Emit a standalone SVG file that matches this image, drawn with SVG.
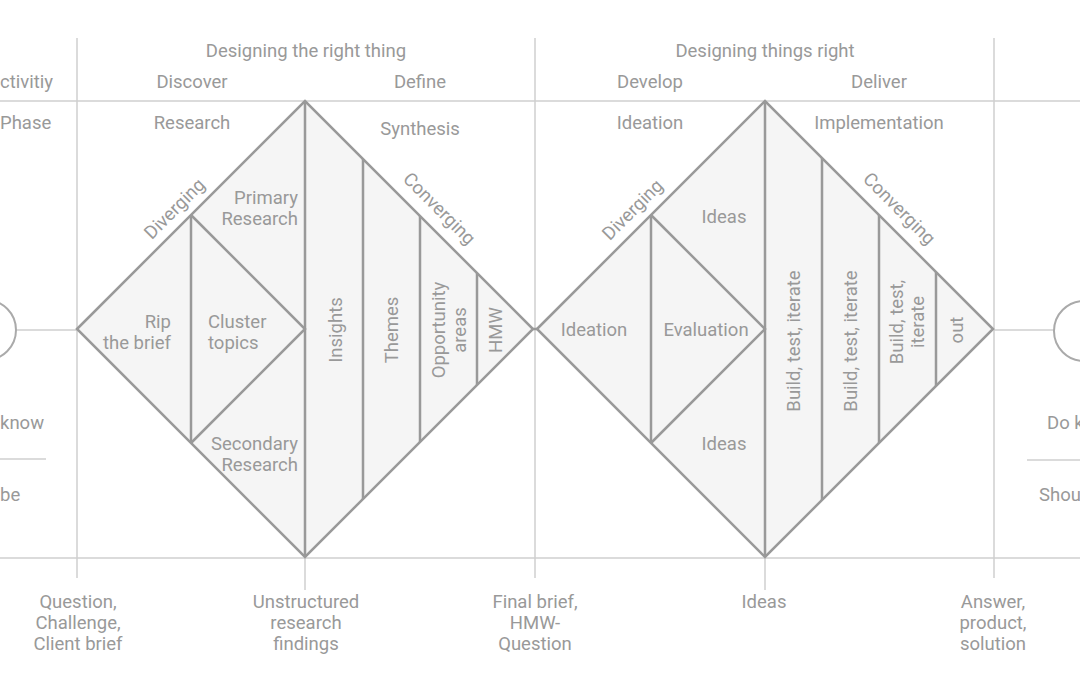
<svg xmlns="http://www.w3.org/2000/svg" width="1080" height="675" viewBox="0 0 1080 675">
<style>
.grid{stroke:#cfcfcf;stroke-width:1.5;fill:none}
.edge{stroke:#999;stroke-width:2.5;fill:#f5f5f5;stroke-linejoin:miter}
.ln{stroke:#999;stroke-width:2.5;fill:none}
.circ{stroke:#aaa;stroke-width:2;fill:none}
text{font-family:Roboto,"Liberation Sans",Arial,sans-serif;font-size:18.5px;fill:#999}
.m{text-anchor:middle}
.e{text-anchor:end}
</style>
<rect width="1080" height="675" fill="#fff"/>
<g id="grid">
<line class="grid" x1="0" y1="101" x2="1080" y2="101"/>
<line class="grid" x1="0" y1="558" x2="1080" y2="558"/>
<line class="grid" x1="77" y1="38" x2="77" y2="578"/>
<line class="grid" x1="535" y1="38" x2="535" y2="578"/>
<line class="grid" x1="994" y1="38" x2="994" y2="578"/>
<line class="grid" x1="305" y1="557" x2="305" y2="590"/>
<line class="grid" x1="765" y1="557" x2="765" y2="590"/>
<line class="grid" x1="0" y1="459" x2="46" y2="459"/>
<line class="grid" x1="1027" y1="460" x2="1080" y2="460"/>
</g>
<g id="connectors">
<line class="grid" x1="16" y1="330" x2="77" y2="330"/>
<line class="grid" x1="994" y1="330" x2="1054" y2="330"/>
<line class="ln" x1="533" y1="329" x2="537" y2="329"/>
</g>
<g id="start">
<circle class="circ" cx="-14" cy="330" r="30"/>
</g>
<g id="end">
<circle class="circ" cx="1084" cy="331" r="30"/>
</g>
<g id="diamond-1">
<polygon class="edge" points="77,329 305,101 533,329 305,557"/>
<line class="ln" x1="191" y1="215" x2="191" y2="443"/>
<polyline class="ln" points="191,215 305,329 191,443"/>
<line class="ln" x1="305" y1="101" x2="305" y2="557"/>
<line class="ln" x1="363" y1="159" x2="363" y2="499"/>
<line class="ln" x1="420" y1="216" x2="420" y2="442"/>
<line class="ln" x1="477" y1="273" x2="477" y2="385"/>
</g>
<g id="diamond-2">
<polygon class="edge" points="537,329 765,101 993,329 765,557"/>
<line class="ln" x1="651" y1="215" x2="651" y2="443"/>
<polyline class="ln" points="651,215 765,329 651,443"/>
<line class="ln" x1="765" y1="101" x2="765" y2="557"/>
<line class="ln" x1="822" y1="158" x2="822" y2="500"/>
<line class="ln" x1="879" y1="215" x2="879" y2="443"/>
<line class="ln" x1="936" y1="272" x2="936" y2="386"/>
</g>
<g id="labels-top">
<text class="m" x="306" y="57">Designing the right thing</text>
<text class="m" x="765" y="57">Designing things right</text>
<text x="0" y="88">ctivitiy</text>
<text class="m" x="192" y="88">Discover</text>
<text class="m" x="420" y="88">Define</text>
<text class="m" x="650" y="88">Develop</text>
<text class="m" x="879" y="88">Deliver</text>
<text x="0" y="129">Phase</text>
<text x="0" y="429">know</text>
<text x="0" y="501">be</text>
<text class="m" x="192" y="129">Research</text>
<text class="m" x="420" y="135">Synthesis</text>
<text class="m" x="650" y="129">Ideation</text>
<text class="m" x="879" y="129">Implementation</text>
<text x="1047" y="429">Do k</text>
<text x="1039" y="501">Shou</text>
</g>
<g id="labels-d1">
<text class="m" transform="translate(179,213) rotate(-45)">Diverging</text>
<text class="e" x="298" y="204">Primary</text>
<text class="e" x="298" y="225">Research</text>
<text class="e" x="171" y="328">Rip</text>
<text class="e" x="171" y="349">the brief</text>
<text x="208" y="328">Cluster</text>
<text x="208" y="349">topics</text>
<text class="e" x="298" y="450">Secondary</text>
<text class="e" x="298" y="471">Research</text>
<text class="m" transform="translate(435,213) rotate(45)">Converging</text>
<text class="m" transform="translate(342,330) rotate(-90)">Insights</text>
<text class="m" transform="translate(398,330) rotate(-90)">Themes</text>
<text class="m" transform="translate(445,330) rotate(-90)">Opportunity</text>
<text class="m" transform="translate(466,330) rotate(-90)">areas</text>
<text class="m" transform="translate(502,330) rotate(-90)">HMW</text>
</g>
<g id="labels-d2">
<text class="m" transform="translate(637,214) rotate(-45)">Diverging</text>
<text class="m" x="724" y="223">Ideas</text>
<text class="m" x="594" y="336">Ideation</text>
<text class="m" x="706" y="336">Evaluation</text>
<text class="m" x="724" y="450">Ideas</text>
<text class="m" transform="translate(895,213) rotate(45)">Converging</text>
<text class="m" transform="translate(800,341) rotate(-90)">Build, test, iterate</text>
<text class="m" transform="translate(857,341) rotate(-90)">Build, test, iterate</text>
<text class="m" transform="translate(903,322) rotate(-90)">Build, test,</text>
<text class="m" transform="translate(924,322) rotate(-90)">iterate</text>
<text class="m" transform="translate(963,330) rotate(-90)">out</text>
</g>
<g id="labels-bottom">
<text class="m" x="78" y="608">Question,</text>
<text class="m" x="78" y="629">Challenge,</text>
<text class="m" x="78" y="650">Client brief</text>
<text class="m" x="306" y="608">Unstructured</text>
<text class="m" x="306" y="629">research</text>
<text class="m" x="306" y="650">findings</text>
<text class="m" x="535" y="608">Final brief,</text>
<text class="m" x="535" y="629">HMW-</text>
<text class="m" x="535" y="650">Question</text>
<text class="m" x="764" y="608">Ideas</text>
<text class="m" x="993" y="608">Answer,</text>
<text class="m" x="993" y="629">product,</text>
<text class="m" x="993" y="650">solution</text>
</g>
</svg>
